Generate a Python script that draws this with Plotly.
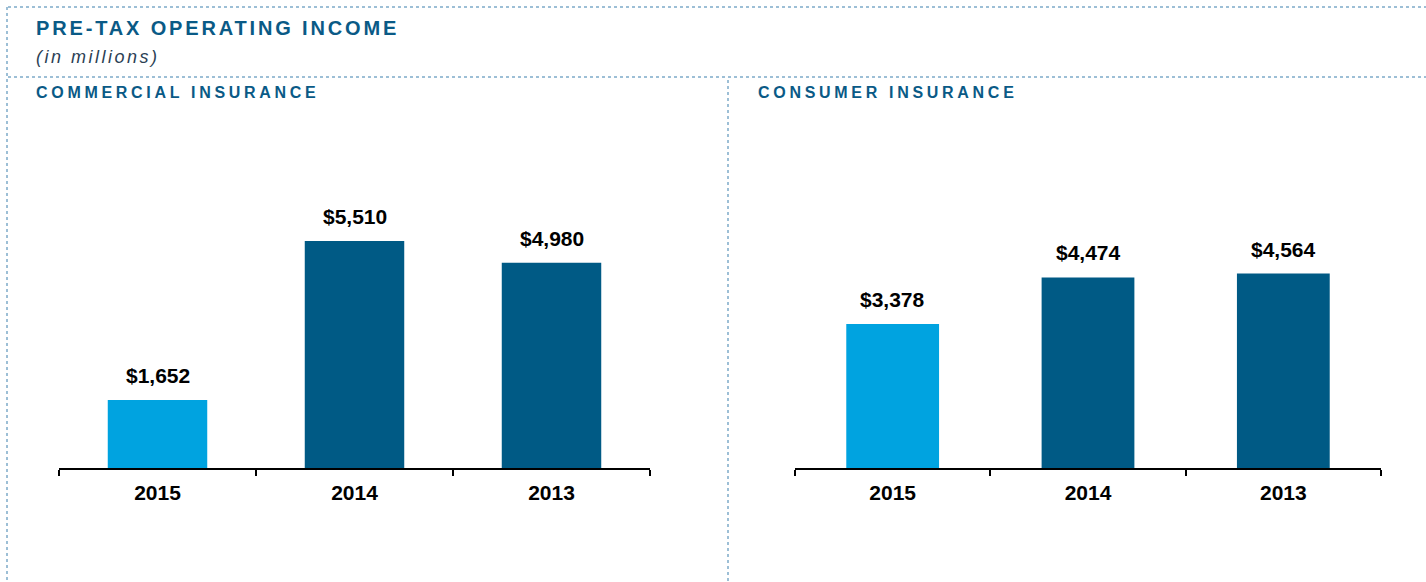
import plotly.graph_objects as go

years = ["2015", "2014", "2013"]
commercial = [1652, 5510, 4980]
consumer = [3378, 4474, 4564]
labels_commercial = ["$1,652", "$5,510", "$4,980"]
labels_consumer = ["$3,378", "$4,474", "$4,564"]
bar_colors = ["#00a3e0", "#005a85", "#005a85"]

W, H = 1426, 582
def px(x):
    return x / W
def py(y):
    return 1 - y / H

fig = go.Figure()
fig.add_trace(go.Bar(x=years, y=commercial, marker=dict(color=bar_colors, line=dict(width=0)),
                     width=0.505, xaxis="x", yaxis="y", hoverinfo="skip"))
fig.add_trace(go.Bar(x=years, y=consumer, marker=dict(color=bar_colors, line=dict(width=0)),
                     width=0.475, xaxis="x2", yaxis="y2", hoverinfo="skip"))

ann = []
for ys, ls, xr, yr in [(commercial, labels_commercial, "x", "y"),
                       (consumer, labels_consumer, "x2", "y2")]:
    for i, (y, l) in enumerate(zip(ys, ls)):
        ann.append(dict(x=i, y=y, xref=xr, yref=yr, text="<b>" + l + "</b>", showarrow=False,
                        xanchor="center", yanchor="bottom", yshift=11,
                        font=dict(family="Liberation Sans, Arial", size=21, color="#000000")))

title_blue = "#0a5a86"
def spaced(t, sp):
    return '<span style="letter-spacing:%spx">%s</span>' % (sp, t)

ann.append(dict(x=px(34), y=py(28), xref="paper", yref="paper", xanchor="left", yanchor="middle",
                text="<b>" + spaced("PRE-TAX OPERATING INCOME", 2.85) + "</b>", showarrow=False,
                font=dict(family="Liberation Sans, Arial", size=20, color=title_blue)))
ann.append(dict(x=px(34), y=py(57), xref="paper", yref="paper", xanchor="left", yanchor="middle",
                text="<i>" + spaced("(in millions)", 2.5) + "</i>", showarrow=False,
                font=dict(family="Liberation Sans, Arial", size=18, color="#2b3f55")))
ann.append(dict(x=px(34), y=py(93), xref="paper", yref="paper", xanchor="left", yanchor="middle",
                text="<b>" + spaced("COMMERCIAL INSURANCE", 3.7) + "</b>", showarrow=False,
                font=dict(family="Liberation Sans, Arial", size=16, color=title_blue)))
ann.append(dict(x=px(756), y=py(93), xref="paper", yref="paper", xanchor="left", yanchor="middle",
                text="<b>" + spaced("CONSUMER INSURANCE", 3.7) + "</b>", showarrow=False,
                font=dict(family="Liberation Sans, Arial", size=16, color=title_blue)))

dot = dict(color="#9dbfd6", width=2, dash="dot")
shapes = [
    dict(type="line", xref="paper", yref="paper", x0=px(8), x1=1, y0=py(7), y1=py(7), line=dot),
    dict(type="line", xref="paper", yref="paper", x0=px(8), x1=1, y0=py(77), y1=py(77), line=dot),
    dict(type="line", xref="paper", yref="paper", x0=px(7), x1=px(7), y0=py(7), y1=0, line=dot),
    dict(type="line", xref="paper", yref="paper", x0=px(728), x1=px(728), y0=py(80), y1=0, line=dot),
]

ytop, ybot = 120, 468
ydom = [py(ybot), py(ytop)]
plot_h = ybot - ytop
axis_common = dict(type="category", showline=True, linecolor="#000000", linewidth=2,
                   ticks="outside", ticklen=6, tickwidth=2, tickcolor="#000000",
                   tickson="boundaries", showgrid=False, tickangle=0, ticklabelstandoff=5,
                   tickfont=dict(family="Liberation Sans, Arial", size=21, color="#000000"),
                   fixedrange=True, categoryorder="array", categoryarray=years,
                   range=[-0.5, 2.5])
yaxis_common = dict(visible=False, showgrid=False, zeroline=False, fixedrange=True)

fig.update_layout(
    width=W, height=H, margin=dict(l=0, r=0, t=0, b=0),
    paper_bgcolor="#ffffff", plot_bgcolor="#ffffff", showlegend=False, bargap=0.5,
    xaxis=dict(domain=[px(59), px(650)], anchor="y", **axis_common),
    xaxis2=dict(domain=[px(795), px(1381)], anchor="y2", **axis_common),
    yaxis=dict(domain=ydom, anchor="x", range=[0, plot_h / 0.0412], **yaxis_common),
    yaxis2=dict(domain=ydom, anchor="x2", range=[0, plot_h / 0.0426], **yaxis_common),
    annotations=ann, shapes=shapes,
)
fig.update_xaxes(tickprefix="<b>", ticksuffix="</b>")

fig.write_html("out.html", config={"displayModeBar": False},
               post_script="document.body.style.margin='0';document.body.style.overflow='hidden';")
